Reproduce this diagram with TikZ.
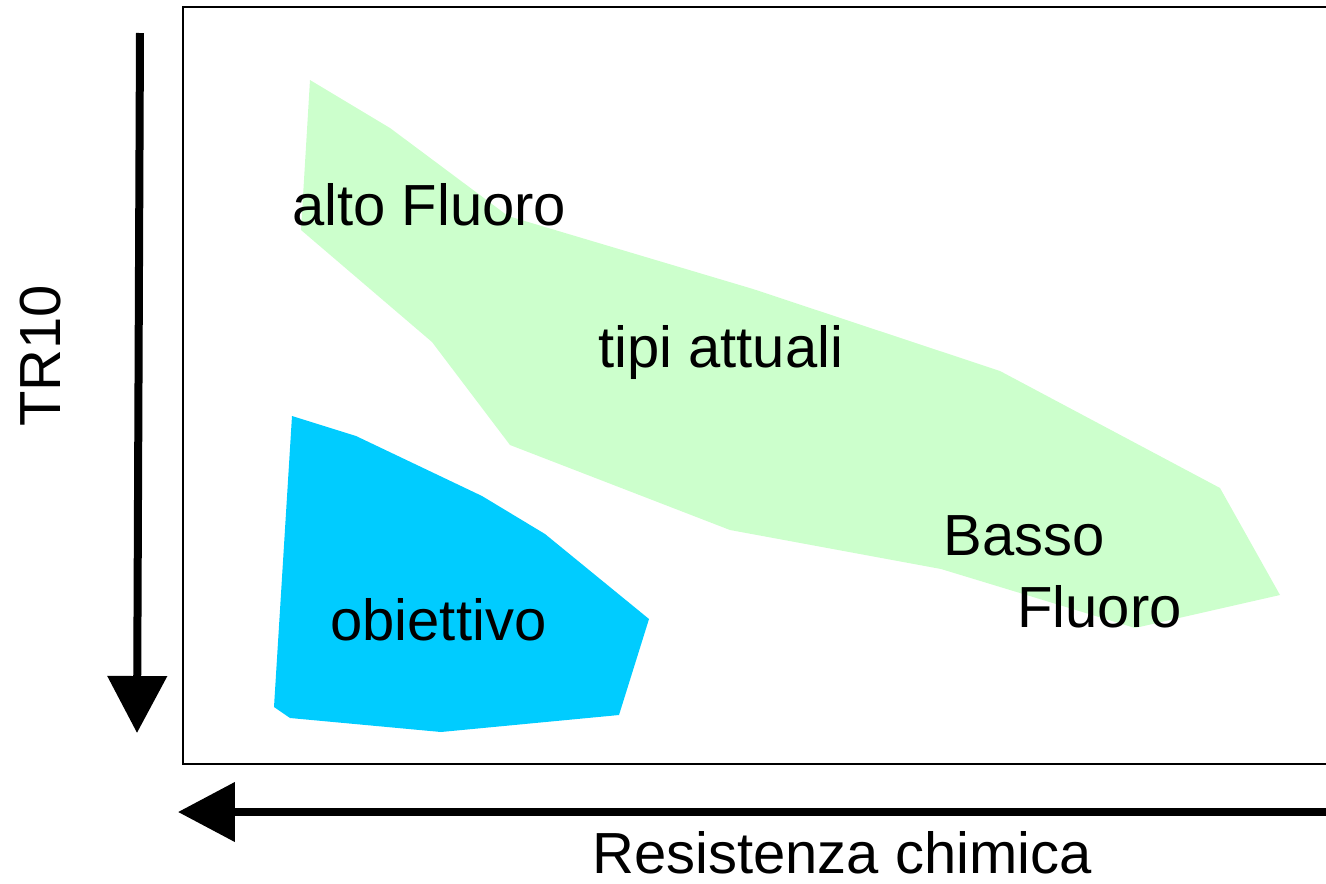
\documentclass[tikz,border=0pt]{standalone}
\usepackage{fontspec}
\setmainfont{Liberation Sans}
\usetikzlibrary{arrows.meta}
\definecolor{verdino}{HTML}{CCFFCC}
\definecolor{azzurro}{HTML}{00CCFF}
\begin{document}
\begin{tikzpicture}[x=0.02cm,y=-0.02cm,
	testo/.style={font=\fontsize{33}{38}\selectfont,inner sep=0pt,anchor=base west},
	asse/.style={line width=0.16cm,-{Triangle[length=1.14cm,width=1.16cm]}}]%Grafico
	\useasboundingbox (0,0) rectangle (1326,883);
	\path
	(140,33) coordinate (Y0)
	(137,733) coordinate (Y1)
	(1340,812) coordinate (X0)
	(178,812) coordinate (X1);
	\fill[verdino] (310,80)--(390,128)--(508,216)--(753,289)--(1000,371)--(1220,488)--(1280,595)--(1135,628)--(941,569)--(730,530)--(510,445)--(432,342)--(301,230)--cycle;
	\fill[azzurro] (292,416)--(356,436)--(482,496)--(545,534)--(649,619)--(619,715)--(441,732)--(290,718)--(274,707)--cycle;
	\draw[line width=0.03cm] (183,7) rectangle (1340,764);
	\draw[asse] (Y0)--(Y1);
	\draw[asse] (X0)--(X1);
	\foreach \n/\p/\t in {alto/{(292,225)}/alto Fluoro,tipi/{(598,367)}/tipi attuali,basso/{(943,555)}/Basso,fluoro/{(1017,627)}/Fluoro,obiettivo/{(330,640)}/obiettivo,resistenza/{(592,873)}/Resistenza chimica}
	\node[testo] (\n) at \p {\t};
	\node[testo,rotate=90] (tr) at (60,427) {TR10};
\end{tikzpicture}
\end{document}
